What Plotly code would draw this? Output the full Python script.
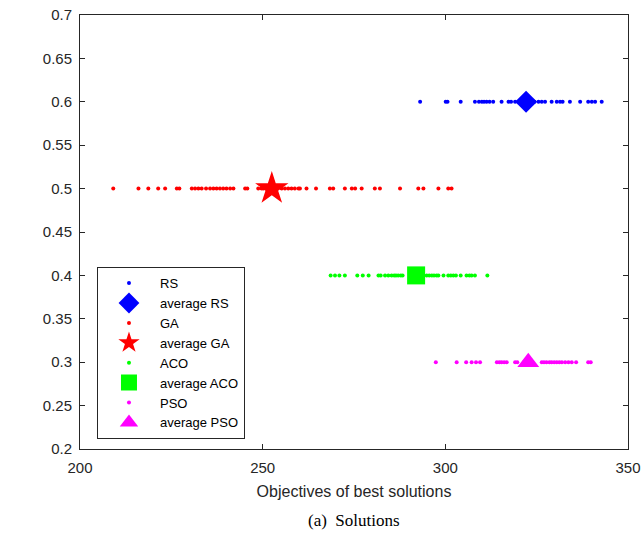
import plotly.graph_objects as go

# Best objective value found in each run, per algorithm
rs_values = [293.1, 300.1, 300.6, 304.2, 308.1, 309.2, 310.0, 310.6, 311.3, 312.1,
             313.1, 315.4, 317.3, 318.0, 319.1, 320.5, 321.3, 322.8, 323.6, 324.4,
             325.5, 326.4, 327.3, 329.1, 330.5, 331.4, 332.1, 334.1, 336.9, 339.1,
             340.1, 341.0, 342.8]
ga_values = [209.1, 216.0, 218.7, 221.4, 223.3, 226.5, 227.2, 230.6, 231.5, 232.4,
             233.3, 234.5, 235.6, 236.5, 237.4, 238.3, 239.2, 240.1, 241.1, 242.0,
             245.2, 245.8, 248.8, 249.7, 250.2, 251.5, 253.5, 255.2, 256.1, 257.0,
             257.9, 258.8, 259.8, 260.2, 262.0, 264.6, 268.4, 269.3, 272.5, 274.4,
             275.3, 277.1, 280.7, 282.1, 287.6, 292.6, 294.0, 298.1, 300.8, 301.7]
aco_values = [268.6, 269.8, 271.0, 272.5, 275.9, 277.4, 279.0, 281.7, 282.3, 283.5,
              284.4, 285.3, 286.0, 286.5, 287.1, 287.8, 288.3, 290.5, 291.5, 293.0,
              294.9, 295.6, 296.3, 296.9, 297.6, 298.1, 299.5, 300.8, 301.5, 302.2,
              302.9, 304.2, 305.8, 306.6, 307.2, 308.1, 311.5]
pso_values = [297.4, 303.1, 305.7, 307.2, 308.4, 309.5, 314.1, 314.8, 315.4, 316.1,
              316.8, 319.1, 319.7, 321.5, 323.5, 326.4, 327.0, 327.7, 328.5, 329.1,
              329.8, 330.5, 331.2, 331.9, 332.8, 333.7, 334.6, 335.8, 339.1, 339.8]

# Average objective per algorithm
avg_rs, avg_ga, avg_aco, avg_pso = 322.1, 252.5, 292.0, 322.7

# Vertical level used to separate the algorithms
levels = {"RS": 0.6, "GA": 0.5, "ACO": 0.4, "PSO": 0.3}

series = [
    ("RS", rs_values, avg_rs, "#0000ff", "diamond", 17),
    ("GA", ga_values, avg_ga, "#ff0000", "star", 25),
    ("ACO", aco_values, avg_aco, "#00ff00", "square", 18),
    ("PSO", pso_values, avg_pso, "#ff00ff", "triangle-up", 19),
]

axis_color = "#262626"
font_family = "Liberation Sans, Arial, sans-serif"

fig = go.Figure()
for name, vals, avg, color, symbol, size in series:
    y = levels[name]
    fig.add_trace(go.Scatter(
        x=vals, y=[y] * len(vals), mode="markers", name=name,
        marker=dict(color=color, size=4, symbol="circle", line=dict(width=0)),
    ))
    fig.add_trace(go.Scatter(
        x=[avg], y=[y], mode="markers", name="average " + name,
        marker=dict(color=color, size=size, symbol=symbol, line=dict(width=0)),
    ))

axis_common = dict(
    showline=True, linecolor=axis_color, linewidth=1, mirror="ticks",
    ticks="inside", ticklen=5, tickcolor=axis_color, tickwidth=1,
    showgrid=False, zeroline=False, automargin=False,
    tickfont=dict(family=font_family, size=15, color=axis_color),
)

fig.update_layout(
    width=641, height=538,
    margin=dict(l=80, r=13, t=15, b=89),
    paper_bgcolor="white", plot_bgcolor="white",
    font=dict(family=font_family, color=axis_color),
    xaxis=dict(range=[200, 350], tickvals=[200, 250, 300, 350],
               ticklabelstandoff=5,
               title=dict(text="Objectives of best solutions",
                          font=dict(family=font_family, size=16, color=axis_color),
                          standoff=10),
               **axis_common),
    yaxis=dict(range=[0.2, 0.7],
               tickvals=[0.2, 0.25, 0.3, 0.35, 0.4, 0.45, 0.5, 0.55, 0.6, 0.65, 0.7],
               ticktext=["0.2", "0.25", "0.3", "0.35", "0.4", "0.45", "0.5",
                         "0.55", "0.6", "0.65", "0.7"],
               ticklabelstandoff=4,
               **axis_common),
    legend=dict(x=0.031, y=0.419, xanchor="left", yanchor="top",
                bgcolor="white", bordercolor=axis_color, borderwidth=1,
                font=dict(family=font_family, size=13, color="black"),
                itemwidth=52, tracegroupgap=0, itemsizing="trace"),
    showlegend=True,
)

fig.add_annotation(
    text="(a)  Solutions", xref="paper", yref="paper",
    x=0.5, y=-0.139, xanchor="center", yanchor="top", showarrow=False,
    font=dict(family="Liberation Serif, Times New Roman, serif", size=17, color="black"),
)

fig.write_html("out.html")
